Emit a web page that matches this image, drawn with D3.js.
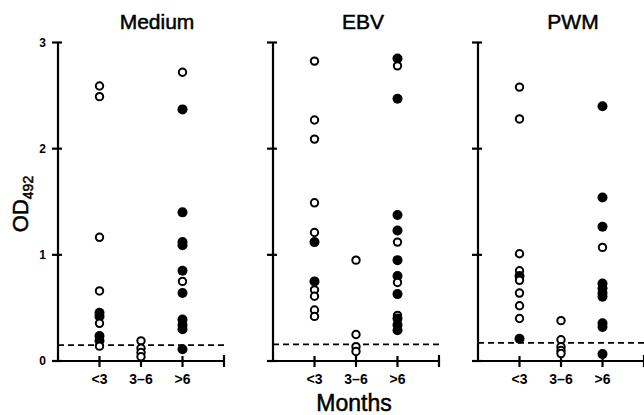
<!DOCTYPE html>
<html>
<head>
<meta charset="utf-8">
<script src="https://cdn.jsdelivr.net/npm/d3@7"></script>
<style>
  body { margin: 0; background: #fff; }
  text { font-family: "Liberation Sans", Arial, Helvetica, sans-serif; fill: #000; }
  .heavy { stroke: #000; stroke-width: 0.5px; }
</style>
</head>
<body>
<svg id="chart" width="644" height="415"></svg>
<script>
const panels = ["Medium", "EBV", "PWM"];
const months = ["<3", "3–6", ">6"];
const yTicks = [0, 1, 2, 3];
const cutoffs = [0.15, 0.157, 0.17];

// [month, OD492, filled]
const mediumPoints = [
  ["<3", 2.59, 0], ["<3", 2.49, 0], ["<3", 1.165, 0], ["<3", 0.66, 0],
  ["<3", 0.455, 1], ["<3", 0.42, 1], ["<3", 0.355, 0], ["<3", 0.235, 1],
  ["<3", 0.19, 1], ["<3", 0.14, 0],
  ["3–6", 0.19, 0], ["3–6", 0.12, 0], ["3–6", 0.08, 0], ["3–6", 0.04, 0],
  [">6", 2.72, 0], [">6", 2.37, 1], [">6", 1.40, 1], [">6", 1.12, 1],
  [">6", 1.09, 1], [">6", 0.85, 1], [">6", 0.75, 0], [">6", 0.64, 1],
  [">6", 0.39, 1], [">6", 0.34, 1], [">6", 0.30, 1], [">6", 0.11, 1]
];
const ebvPoints = [
  ["<3", 2.825, 0], ["<3", 2.27, 0], ["<3", 2.09, 0], ["<3", 1.49, 0],
  ["<3", 1.21, 0], ["<3", 1.12, 1], ["<3", 0.75, 1], ["<3", 0.67, 0],
  ["<3", 0.61, 0], ["<3", 0.48, 0], ["<3", 0.42, 0],
  ["3–6", 0.95, 0], ["3–6", 0.25, 0], ["3–6", 0.135, 0], ["3–6", 0.09, 0],
  [">6", 2.85, 1], [">6", 2.78, 0], [">6", 2.47, 1], [">6", 1.375, 1],
  [">6", 1.23, 1], [">6", 1.12, 0], [">6", 0.95, 1], [">6", 0.80, 1],
  [">6", 0.74, 0], [">6", 0.63, 1], [">6", 0.43, 0], [">6", 0.40, 1],
  [">6", 0.34, 1], [">6", 0.29, 1]
];
const pwmPoints = [
  ["<3", 2.58, 0], ["<3", 2.28, 0], ["<3", 1.01, 0], ["<3", 0.85, 0],
  ["<3", 0.80, 1], ["<3", 0.76, 0], ["<3", 0.64, 0], ["<3", 0.52, 0],
  ["<3", 0.40, 0], ["<3", 0.21, 1],
  ["3–6", 0.38, 0], ["3–6", 0.20, 0], ["3–6", 0.135, 0], ["3–6", 0.10, 0],
  ["3–6", 0.07, 0],
  [">6", 2.40, 1], [">6", 1.54, 1], [">6", 1.265, 1], [">6", 1.07, 0],
  [">6", 0.73, 1], [">6", 0.685, 1], [">6", 0.64, 1], [">6", 0.605, 1],
  [">6", 0.355, 1], [">6", 0.32, 1], [">6", 0.065, 1]
];
const panelPoints = [mediumPoints, ebvPoints, pwmPoints];

const svg = d3.select("#chart");
const panelLeft = [58, 273, 478];
const panelWidth = 166;
const titleOffset = [99, 90, 95];

const y = d3.scaleLinear().domain([0, 3]).range([361, 42.5]);
const x = d3.scalePoint().domain(months).range([0, panelWidth]).padding(1);

panels.forEach((name, i) => {
  const g = svg.append("g").attr("transform", `translate(${panelLeft[i]},0)`);

  // dashed cutoff line
  g.append("line")
    .attr("x1", 0)
    .attr("x2", i < 2 ? panelWidth + 4 : panelWidth + 2)
    .attr("y1", y(cutoffs[i]))
    .attr("y2", y(cutoffs[i]))
    .attr("stroke", "#000")
    .attr("stroke-width", 1.8)
    .attr("stroke-dasharray", "6,4");

  // y axis
  g.append("line")
    .attr("x1", 0).attr("x2", 0)
    .attr("y1", y(0)).attr("y2", y(3))
    .attr("stroke", "#000").attr("stroke-width", 2.2);
  g.selectAll(".ytick")
    .data(yTicks)
    .enter()
    .append("line")
    .attr("x1", -6).attr("x2", 4)
    .attr("y1", (d) => y(d)).attr("y2", (d) => y(d))
    .attr("stroke", "#000").attr("stroke-width", 2.2);

  // x axis
  g.append("line")
    .attr("x1", -4).attr("x2", panelWidth)
    .attr("y1", y(0)).attr("y2", y(0))
    .attr("stroke", "#000").attr("stroke-width", 2.2);
  g.append("line")
    .attr("x1", panelWidth).attr("x2", panelWidth)
    .attr("y1", y(0) - 6).attr("y2", y(0) + 6)
    .attr("stroke", "#000").attr("stroke-width", 2.2);
  g.selectAll(".xtick")
    .data(months)
    .enter()
    .append("line")
    .attr("x1", (d) => x(d)).attr("x2", (d) => x(d))
    .attr("y1", y(0) - 5).attr("y2", y(0) + 6)
    .attr("stroke", "#000").attr("stroke-width", 2.2);
  g.selectAll(".xlabel")
    .data(months)
    .enter()
    .append("text")
    .attr("x", (d) => x(d))
    .attr("y", 384)
    .attr("text-anchor", "middle")
    .style("font-size", "14px")
    .style("font-weight", "bold")
    .text((d) => d);

  if (i === 0) {
    g.selectAll(".ylabel")
      .data(yTicks)
      .enter()
      .append("text")
      .attr("x", -12)
      .attr("y", (d) => y(d) + 4)
      .attr("text-anchor", "end")
      .style("font-size", "12px")
      .style("font-weight", "bold")
      .text((d) => d);
  }

  // title
  g.append("text")
    .attr("class", "heavy")
    .attr("x", titleOffset[i])
    .attr("y", 29)
    .attr("text-anchor", "middle")
    .style("font-size", "21px")
    .text(name);

  // points
  g.selectAll(".pt")
    .data(panelPoints[i])
    .enter()
    .append("circle")
    .attr("cx", (d) => x(d[0]))
    .attr("cy", (d) => y(d[1]))
    .attr("r", (d) => (d[2] ? 5 : 3.7))
    .attr("fill", (d) => (d[2] ? "#000" : "#fff"))
    .attr("stroke", "#000")
    .attr("stroke-width", (d) => (d[2] ? 0 : 2));
});

// y axis title
svg.append("text")
  .attr("class", "heavy")
  .attr("transform", "translate(28,204) rotate(-90)")
  .attr("text-anchor", "middle")
  .style("font-size", "22px")
  .text("OD")
  .append("tspan")
  .attr("dy", 5)
  .style("font-size", "14px")
  .text("492");

// x axis title
svg.append("text")
  .attr("class", "heavy")
  .attr("x", 354)
  .attr("y", 411)
  .attr("text-anchor", "middle")
  .style("font-size", "23px")
  .text("Months");
</script>
</body>
</html>
